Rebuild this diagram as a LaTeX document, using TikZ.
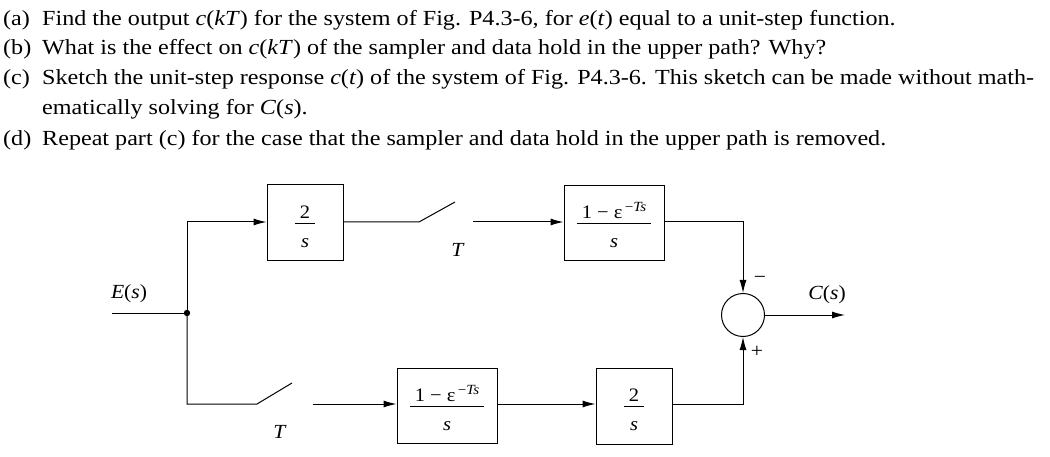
\documentclass[tikz,border=0pt]{standalone}
\usepackage{amsmath}
\usepackage{fontspec}
\setmainfont{Liberation Serif}[FakeStretch=1.08]
\newfontfamily\qfont{Liberation Serif}[FakeStretch=1.122]
\usetikzlibrary{arrows.meta}
\newcommand{\blkfrac}[2]{$\dfrac{\raisebox{-3pt}{\rule{0pt}{20pt}\hspace*{5pt}#1\hspace*{5pt}}}{\mbox{\rule{0pt}{22pt}#2}}$}
\newcommand{\eps}{1 − ε\raisebox{7pt}{\fontsize{14}{15}\selectfont\,−\textit{Ts}}}
\begin{document}
\begin{tikzpicture}[x=1pt,y=-1pt,
    blk/.style={draw, line width=1pt, minimum width=76pt, minimum height=76pt, inner sep=0pt, font=\fontsize{19}{22}\selectfont},
    wideblk/.style={blk, minimum width=100pt, minimum height=75pt},
    wire/.style={line width=1pt},
    sig/.style={wire, -{Latex[length=13pt,width=7pt]}},
    lbl/.style={inner sep=0pt, font=\fontsize{20}{24}\selectfont},
    txt/.style={anchor=base west, inner sep=0pt, font=\qfont\fontsize{21.5}{25}\selectfont}]
        \useasboundingbox (0,0) rectangle (1050,457);

        % problem text
        \node[txt] (qa) at (3,26) {(a)};
        \node[txt] (ta) at (42,26) {Find the output \textit{c}(\textit{kT}) for the system of Fig. P4.3-6, for \textit{e}(\textit{t}) equal to a unit-step function.};
        \node[txt] (qb) at (3,55) {(b)};
        \node[txt] (tb) at (42,55) {What is the effect on \textit{c}(\textit{kT}) of the sampler and data hold in the upper path? Why?};
        \node[txt] (qc) at (3,85) {(c)};
        \node[txt] (tc) at (42,85) {Sketch the unit-step response \textit{c}(\textit{t}) of the system of Fig. P4.3-6. This sketch can be made without math-};
        \node[txt] (tc2) at (42,115) {ematically solving for \textit{C}(\textit{s}).};
        \node[txt] (qd) at (3,146) {(d)};
        \node[txt] (td) at (42,146) {Repeat part (c) for the case that the sampler and data hold in the upper path is removed.};

        % blocks
        \node[blk] (up1) at (305,223) {\blkfrac{2}{\textit{s}}};
        \node[wideblk] (up2) at (614,223) {\blkfrac{\eps}{\textit{s}}};
        \node[wideblk] (lo1) at (447,406) {\blkfrac{\eps}{\textit{s}}};
        \node[blk] (lo2) at (634,406) {\blkfrac{2}{\textit{s}}};
        \node[circle, draw, line width=1pt, minimum size=43pt, inner sep=0pt] (sum) at (743,315) {};

        \coordinate (in) at (112,313);
        \coordinate (jn) at (187,313);
        \coordinate (out) at (845,315);
        \coordinate (sw1a) at (419,222);
        \coordinate (sw1b) at (455,202);
        \coordinate (sw1c) at (473,222);
        \coordinate (sw2a) at (257,404);
        \coordinate (sw2b) at (292,383);
        \coordinate (sw2c) at (313,404);

        % connectors
        \draw[wire] (in) -- (jn);
        \fill (jn) circle (3.2pt);
        \draw[sig] (jn) |- (up1.west |- sw1a);
        \draw[wire] (up1.east |- sw1a) -- (sw1a) -- (sw1b);
        \draw[sig] (sw1c) -- (up2.west |- sw1c);
        \draw[sig] (up2.east |- sw1c) -| (sum.north);
        \draw[wire] (jn) |- (sw2a) -- (sw2b);
        \draw[sig] (sw2c) -- (lo1.west |- sw2c);
        \draw[sig] (lo1.east |- sw2c) -- (lo2.west |- sw2c);
        \draw[sig] (lo2.east |- sw2c) -| (sum.south);
        \draw[sig] (sum.east) -- (out);

        % labels
        \node[lbl] (ein) at (129,294) {\textit{E}(\textit{s})};
        \node[lbl] (cout) at (827,295) {\textit{C}(\textit{s})};
        \node[lbl] (t1) at (458,250) {\textit{T}};
        \node[lbl] (t2) at (280,432) {\textit{T}};
        \node[lbl] (minus) at (760,280) {−};
        \node[lbl] (plus) at (757,352) {+};
\end{tikzpicture}
\end{document}
